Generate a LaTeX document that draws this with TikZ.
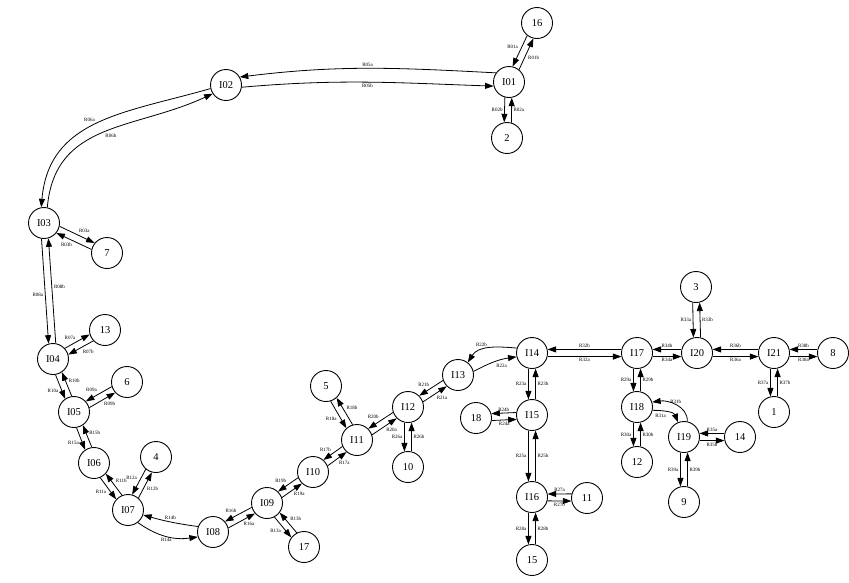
\documentclass[tikz,border=0pt]{standalone}
\usepackage{fontspec}
\setmainfont{Liberation Serif}
\usetikzlibrary{arrows.meta,calc}
\tikzset{
  st/.style={circle,draw,line width=0.9pt,minimum size=31pt,inner sep=0pt,font=\fontsize{10.5}{12}\selectfont},
  arr/.style={line width=0.8pt,-{Triangle[length=8.5pt,width=6pt]}},
  lab/.style={font=\fontsize{5}{6}\selectfont,inner sep=1.6pt},
}
% edge drawn on the right side of its direction, label on the right
\newcommand\edR[4][]{\draw[arr] let \p1=(#2.center),\p2=(#3.center),
  \n1={atan2(\y2-\y1,\x2-\x1)-13},\n2={atan2(\y2-\y1,\x2-\x1)+193} in
  (#2.\n1) to[#1] node[lab,auto,swap]{#4} (#3.\n2);}
% edge drawn on the left side of its direction, label on the left
\newcommand\edL[4][]{\draw[arr] let \p1=(#2.center),\p2=(#3.center),
  \n1={atan2(\y2-\y1,\x2-\x1)+13},\n2={atan2(\y2-\y1,\x2-\x1)+167} in
  (#2.\n1) to[#1] node[lab,auto]{#4} (#3.\n2);}
\begin{document}
\begin{tikzpicture}[x=1pt,y=-1pt]
\useasboundingbox (0,0) rectangle (849,582);
% nodes
\node[st] (I01) at (509,82) {I01};
\node[st] (n16) at (537,23) {16};
\node[st] (n2) at (507,138) {2};
\node[st] (I02) at (226,85) {I02};
\node[st] (I03) at (44,223) {I03};
\node[st] (n7) at (107,253) {7};
\node[st] (I04) at (53,359) {I04};
\node[st] (n13) at (105,330) {13};
\node[st] (I05) at (74,412) {I05};
\node[st] (n6) at (127,382) {6};
\node[st] (I06) at (94,463) {I06};
\node[st] (n4) at (156,457) {4};
\node[st] (I07) at (128,510) {I07};
\node[st] (I08) at (213,532) {I08};
\node[st] (I09) at (267,503) {I09};
\node[st] (n17) at (304,547) {17};
\node[st] (I10) at (313,472) {I10};
\node[st] (I11) at (357,440) {I11};
\node[st] (n5) at (326,386) {5};
\node[st] (I12) at (408,407) {I12};
\node[st] (n10) at (408,467) {10};
\node[st] (I13) at (458,375) {I13};
\node[st] (I14) at (532,353) {I14};
\node[st] (I15) at (532,415) {I15};
\node[st] (n18) at (476,418) {18};
\node[st] (I16) at (532,497) {I16};
\node[st] (n11) at (587,498) {11};
\node[st] (n15) at (532,560) {15};
\node[st] (I17) at (637,353) {I17};
\node[st] (I18) at (637,407) {I18};
\node[st] (n12) at (637,462) {12};
\node[st] (I19) at (684,437) {I19};
\node[st] (n14) at (740,437) {14};
\node[st] (n9) at (684,502) {9};
\node[st] (I20) at (697,353) {I20};
\node[st] (n3) at (696,287) {3};
\node[st] (I21) at (774,353) {I21};
\node[st] (n8) at (833,353) {8};
\node[st] (n1) at (774,412) {1};
% edges
\edR{I01}{n16}{R01b}\edR{n16}{I01}{R01a}
\edR{I01}{n2}{R02b}\edR{n2}{I01}{R02a}
\draw[arr] (I01.145) to[out=177,in=7] node[lab,above]{R05a} (I02.30);
\draw[arr] (I02.-8) to[out=5,in=178] node[lab,below]{R05b} (I01.195);
\draw[arr] (I02.193) to[out=196,in=85,looseness=1.1] node[lab,above left]{R06a} (I03.100);
\draw[arr] (I03.78) to[out=85,in=205,looseness=1.1] node[lab,below right]{R06b} (I02.213);
\edL{I03}{n7}{R03a}\edL{n7}{I03}{R03b}
\edR{I03}{I04}{R08a}\edR{I04}{I03}{R08b}
\edL{I04}{n13}{R07a}\edL{n13}{I04}{R07b}
\edR{I04}{I05}{R10a}\edR{I05}{I04}{R10b}
\edR{n6}{I05}{R09a}\edR{I05}{n6}{R09b}
\edR{I05}{I06}{R15a}\edR{I06}{I05}{R15b}
\edR{I06}{I07}{R11a}\edR{I07}{I06}{R11b}
\edR{n4}{I07}{R12a}\edR{I07}{n4}{R12b}
\draw[arr] (I08.160) to[bend left=4] node[lab,above]{R14b} (I07.-18);
\draw[arr] (I07.-52) to[out=-35,in=188] node[lab,below]{R14a} (I08.198);
\edR{I09}{I08}{R16b}\edR{I08}{I09}{R16a}
\edR{I09}{n17}{R13a}\edR{n17}{I09}{R13b}
\edR{I10}{I09}{R19b}\edR{I09}{I10}{R19a}
\edR{I11}{I10}{R17b}\edR{I10}{I11}{R17a}
\edR{n5}{I11}{R18a}\edR{I11}{n5}{R18b}
\edR{I12}{I11}{R20b}\edR{I11}{I12}{R20a}
\edR{I12}{n10}{R26a}\edR{n10}{I12}{R26b}
\edR{I13}{I12}{R21b}\edR{I12}{I13}{R21a}
\draw[arr] (I14.162) to[out=175,in=58] node[lab,above left]{R22b} (I13.52);
\draw[arr] (I13.13) to[out=28,in=188] node[lab,below right]{R22a} (I14.194);
\edR{I14}{I15}{R23a}\edR{I15}{I14}{R23b}
\edR{I15}{n18}{R24b}\edR{n18}{I15}{R24a}
\edR{I15}{I16}{R25a}\edR{I16}{I15}{R25b}
\edR{n11}{I16}{R27a}\edR{I16}{n11}{R27b}
\edR{I16}{n15}{R28a}\edR{n15}{I16}{R28b}
\edR{I17}{I14}{R32b}\edR{I14}{I17}{R32a}
\edR{I17}{I18}{R29a}\edR{I18}{I17}{R29b}
\edR{I20}{I17}{R34b}\edR{I17}{I20}{R34a}
\edR{n3}{I20}{R33a}\edR{I20}{n3}{R33b}
\edR{I21}{I20}{R36b}\edR{I20}{I21}{R36a}
\edR{n8}{I21}{R38b}\edR{I21}{n8}{R38a}
\edR{I21}{n1}{R37a}\edR{n1}{I21}{R37b}
\edR{I18}{n12}{R30a}\edR{n12}{I18}{R30b}
\draw[arr] (I19.78) to[out=88,in=8] node[lab,above]{R31b} (I18.18);
\draw[arr] (I18.-12) to[out=0,in=112] node[lab,below left]{R31a} (I19.112);
\edR{n14}{I19}{R35a}\edR{I19}{n14}{R35b}
\edR{I19}{n9}{R39a}\edR{n9}{I19}{R39b}
\end{tikzpicture}
\end{document}
